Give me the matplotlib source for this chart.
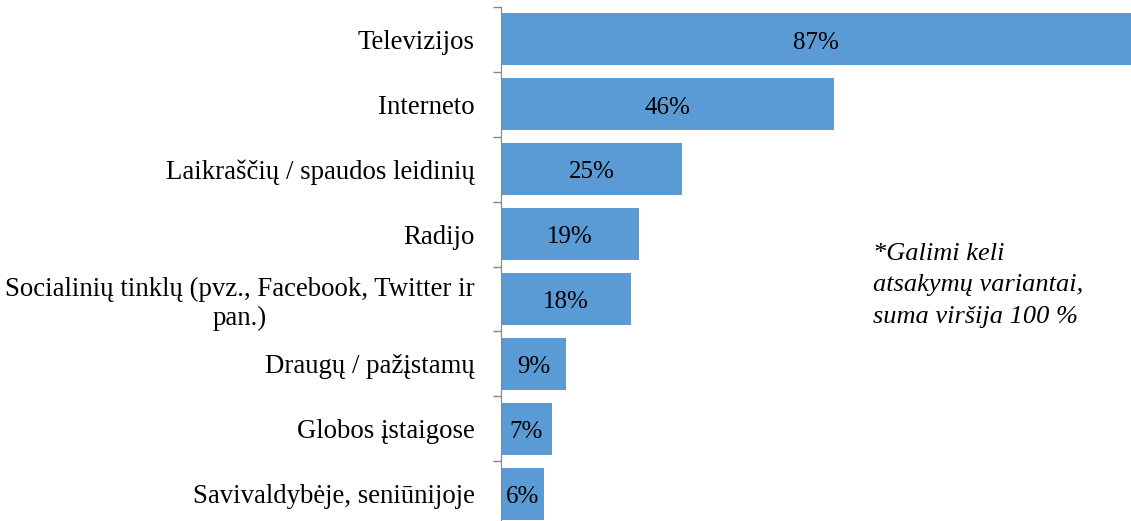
import matplotlib.pyplot as plt

# Data
categories = [
    "Televizijos",
    "Interneto",
    "Laikraščių / spaudos leidinių",
    "Radijo",
    "Socialinių tinklų (pvz., Facebook, Twitter ir\npan.)",
    "Draugų / pažįstamų",
    "Globos įstaigose",
    "Savivaldybėje, seniūnijoje",
]
values = [87, 46, 25, 19, 18, 9, 7, 6]
value_labels = ["87%", "46%", "25%", "19%", "18%", "9%", "7%", "6%"]

plt.rcParams['font.family'] = ['Liberation Serif', 'DejaVu Serif']

W, H = 1131, 521
fig = plt.figure(figsize=(W / 100, H / 100), dpi=100)
# axes from x=501px to right edge, y from 7px at top to slightly below bottom
ax = fig.add_axes([501 / W, -5 / H, 1 - 501 / W, 519 / H])

pos = list(range(len(categories)))
ax.barh(pos, values, height=0.8, color='#5B9BD5')
ax.set_ylim(len(categories) - 0.5, -0.5)
ax.set_xlim(0, 87)

for p, v, lab in zip(pos, values, value_labels):
    ax.text(v / 2, p + 0.05, lab, ha='center', va='center', fontsize=18, color='black')

ax.set_yticks(pos)
ax.set_yticklabels(categories, fontsize=19.3, multialignment='center')
ax.tick_params(axis='y', length=0, pad=19)
# tick marks between categories
ax.set_yticks([p - 0.5 for p in pos] + [len(pos) - 0.5], minor=True)
ax.tick_params(axis='y', which='minor', length=6, color='#868686', width=1)
ax.set_xticks([])

for s in ['top', 'right', 'bottom']:
    ax.spines[s].set_visible(False)
ax.spines['left'].set_color('#868686')

fig.text(873 / W, 1 - 243 / H, "*Galimi keli\natsakymų variantai,\nsuma viršija 100 %",
         fontsize=19, style='italic', ha='left', va='top', linespacing=1.55)

fig.savefig('out.png', dpi=100)
